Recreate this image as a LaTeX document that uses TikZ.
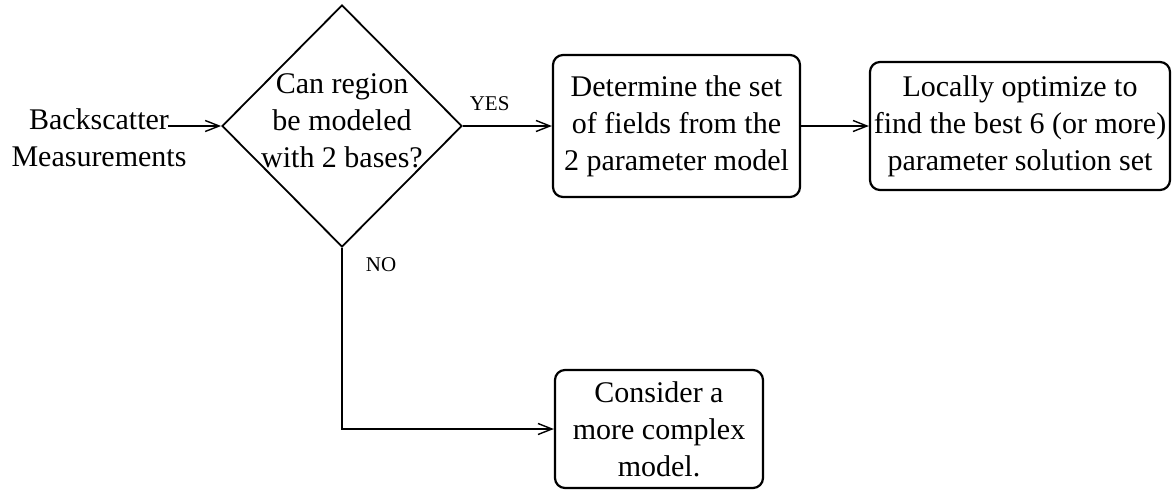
\documentclass[tikz,border=0pt]{standalone}
\usepackage{fontspec}
\setmainfont{Liberation Serif}
\usetikzlibrary{shapes.geometric,arrows.meta}
\begin{document}
\begin{tikzpicture}[x=1pt,y=-1pt,
  txt/.style={font=\fontsize{30}{37}\selectfont, align=center, inner sep=0pt},
  lbl/.style={font=\fontsize{21}{25}\selectfont, inner sep=0pt},
  procbox/.style={draw, line width=2.2pt, rounded corners=10pt, align=center,
    font=\fontsize{30}{37}\selectfont, inner sep=0pt},
  decision/.style={draw, diamond, line width=1.8pt, inner sep=0pt,
    minimum width=240pt, minimum height=242pt},
  arr/.style={line width=1.6pt, -{Straight Barb[length=14pt,width=11pt,line width=1.4pt]}}
]
\useasboundingbox (0,0) rectangle (1174,490);
\node[txt] (bs) at (99,138) {Backscatter\\Measurements};
\coordinate (bsend) at (168,126);
\node[decision] (q) at (342,126) {};
\node[txt] (qt) at (342,121) {Can region\\be modeled\\with 2 bases?};
\node[procbox, minimum width=247pt, minimum height=142pt] (b1) at (676.5,126)
  {Determine the set\\of fields from the\\2 parameter model};
\node[procbox, minimum width=300pt, minimum height=128pt] (b2) at (1020,126)
  {Locally optimize to\\find the best 6 (or more)\\parameter solution set};
\node[procbox, minimum width=208pt, minimum height=118pt] (b3) at (659,429)
  {Consider a\\more complex\\model.};
\draw[arr] (bsend) -- (q.west);
\draw[arr] (q.east) -- node[lbl, above=14pt, pos=0.3] (yes) {YES} (b1.west);
\draw[arr] (b1.east) -- (b2.west);
\draw[arr] (q.south) |- (b3.west);
\node[lbl] (no) at (381,265) {NO};
\end{tikzpicture}
\end{document}
